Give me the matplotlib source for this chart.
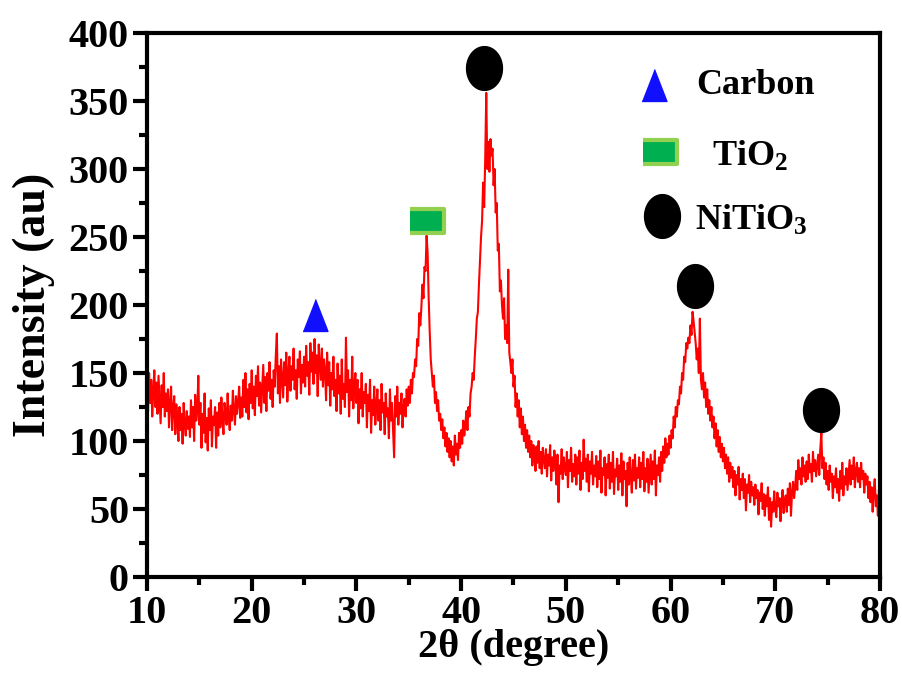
import numpy as np
import matplotlib
matplotlib.use("Agg")
from matplotlib import pyplot as plt

# XRD pattern, every 0.1 degree from 10.0 to 80.0
two_theta = np.round(np.arange(10.0, 80.05, 0.1), 1)
intensity = [
    140, 122, 150, 128, 145, 118, 138, 152, 125, 143,   # 10
    120, 148, 130, 113, 141, 125, 150, 118, 135, 122,   # 11
    138, 110, 128, 140, 108, 124, 133, 105, 127, 115,   # 12
    100, 125, 108, 120, 98, 128, 112, 104, 122, 109,    # 13
    118, 103, 130, 110, 125, 100, 134, 115, 122, 148,   # 14
    112, 128, 95, 120, 106, 135, 99, 117, 93, 124,      # 15
    108, 130, 96, 118, 112, 125, 95, 121, 104, 128,     # 16
    110, 132, 117, 105, 128, 121, 112, 135, 118, 108,   # 17
    126, 115, 137, 122, 112, 133, 120, 128, 140, 117,   # 18
    132, 118, 145, 125, 150, 121, 138, 116, 142, 128,   # 19
    152, 124, 140, 119, 148, 133, 155, 126, 143, 121,   # 20
    139, 156, 128, 147, 122, 150, 137, 158, 131, 145,   # 21
    125, 152, 140, 163, 179, 135, 155, 128, 160, 146,   # 22
    132, 158, 141, 165, 129, 150, 162, 137, 155, 145,   # 23
    168, 138, 152, 131, 160, 147, 166, 135, 156, 143,   # 24
    162, 140, 170, 148, 158, 134, 172, 151, 165, 142,   # 25
    175, 150, 163, 133, 171, 156, 145, 168, 140, 160,   # 26
    152, 130, 165, 141, 158, 126, 150, 138, 162, 133,   # 27
    145, 122, 157, 135, 148, 120, 160, 131, 142, 125,   # 28
    176, 136, 152, 118, 145, 130, 162, 124, 140, 150,   # 29
    128, 145, 113, 138, 124, 150, 118, 136, 128, 142,   # 30
    110, 134, 122, 145, 106, 130, 119, 140, 112, 126,   # 31
    138, 115, 130, 108, 142, 121, 128, 105, 135, 118,   # 32
    124, 102, 138, 115, 128, 108, 88, 133, 118, 140,    # 33
    112, 128, 120, 135, 110, 125, 131, 118, 138, 126,   # 34
    140, 128, 145, 135, 150, 147, 160, 155, 175, 170,   # 35
    194, 185, 198, 215, 205, 228, 225, 251, 238, 205,   # 36
    180, 160, 150, 140, 148, 128, 136, 122, 130, 115,   # 37
    120, 108, 116, 102, 110, 96, 106, 92, 102, 88,      # 38
    100, 85, 96, 82, 104, 90, 98, 86, 106, 95,          # 39
    108, 98, 115, 104, 112, 122, 108, 125, 118, 135,    # 40
    140, 150, 145, 162, 175, 190, 195, 215, 232, 250,   # 41
    262, 290, 272, 308, 356, 300, 320, 298, 322, 310,   # 42
    315, 288, 300, 268, 275, 240, 245, 210, 218, 200,   # 43
    190, 205, 175, 185, 172, 226, 165, 158, 150, 160,   # 44
    140, 148, 125, 135, 118, 130, 110, 124, 105, 118,   # 45
    100, 112, 95, 108, 92, 104, 88, 100, 82, 97,        # 46
    90, 78, 96, 84, 100, 80, 92, 76, 95, 86,            # 47
    80, 94, 74, 90, 82, 97, 71, 88, 78, 93,             # 48
    85, 68, 90, 55, 82, 76, 94, 72, 88, 80,             # 49
    75, 92, 66, 86, 78, 95, 70, 83, 74, 90,             # 50
    68, 88, 76, 93, 64, 84, 72, 101, 78, 87,            # 51
    70, 90, 63, 85, 76, 92, 68, 82, 74, 89,             # 52
    66, 85, 72, 93, 62, 80, 75, 88, 60, 83,             # 53
    73, 90, 65, 84, 70, 92, 61, 79, 74, 87,             # 54
    64, 82, 70, 91, 60, 85, 72, 78, 52, 84,             # 55
    68, 88, 74, 62, 86, 71, 90, 65, 80, 73,             # 56
    88, 66, 84, 72, 92, 63, 80, 70, 87, 62,             # 57
    76, 90, 68, 85, 72, 93, 60, 82, 75, 88,             # 58
    70, 92, 78, 96, 84, 102, 88, 98, 90, 104,           # 59
    95, 108, 102, 118, 110, 125, 118, 130, 127, 140,    # 60
    135, 150, 145, 162, 158, 172, 168, 176, 172, 185,   # 61
    178, 195, 188, 180, 172, 160, 168, 150, 190, 145,   # 62
    138, 150, 132, 143, 125, 138, 120, 130, 115, 125,   # 63
    110, 118, 102, 113, 96, 108, 92, 103, 88, 98,       # 64
    85, 95, 80, 90, 76, 88, 70, 84, 73, 81,             # 65
    66, 78, 60, 75, 68, 81, 57, 72, 64, 76,             # 66
    58, 72, 49, 68, 62, 75, 55, 70, 60, 66,             # 67
    53, 68, 58, 64, 46, 62, 56, 69, 50, 61,             # 68
    45, 60, 52, 66, 42, 58, 37, 55, 48, 63,             # 69
    50, 44, 62, 52, 58, 41, 55, 64, 47, 56,             # 70
    60, 48, 65, 53, 69, 45, 62, 70, 58, 66,             # 71
    78, 64, 86, 72, 80, 68, 88, 74, 82, 70,             # 72
    85, 72, 90, 77, 83, 70, 92, 78, 86, 74,             # 73
    82, 90, 75, 94, 106, 80, 88, 72, 84, 68,            # 74
    78, 64, 82, 70, 76, 58, 74, 66, 80, 62,             # 75
    72, 56, 78, 65, 84, 60, 74, 68, 80, 64,             # 76
    75, 86, 68, 82, 72, 88, 66, 78, 84, 70,             # 77
    80, 66, 84, 72, 78, 62, 76, 68, 74, 58,             # 78
    70, 55, 66, 48, 62, 72, 52, 60, 45, 64,             # 79
    55,                                                 # 80
]

# phase markers above the peaks
carbon_x, carbon_y = [26.0], [193]
tio2_x, tio2_y = [36.75], [262]
nitio3_x = [42.2, 62.3, 74.4]
nitio3_y = [374, 214, 123]

plt.rcParams['font.family'] = 'Liberation Serif'
plt.rcParams['font.weight'] = 'bold'
plt.rcParams['axes.labelweight'] = 'bold'
plt.rcParams['mathtext.fontset'] = 'custom'
plt.rcParams['mathtext.rm'] = 'Liberation Serif:bold'
plt.rcParams['mathtext.it'] = 'Liberation Serif:bold'

# marker shapes
tri = [(-0.78, -1), (0.78, -1), (0, 1)]
rect = [(-1, -0.68), (1, -0.68), (1, 0.68), (-1, 0.68)]
t = np.linspace(0, 2 * np.pi, 60)
ell = list(zip(0.82 * np.cos(t), np.sin(t)))

fig = plt.figure(figsize=(9.03, 6.77), dpi=100)
ax = fig.add_axes([0.1628, 0.1477, 0.8117, 0.8035])

ax.plot(two_theta, intensity, color='#ff0000', lw=1.5)

ax.plot(carbon_x, carbon_y, ls='none', marker=tri, ms=23, color='#1010ff', mec='#1010ff')
ax.plot(tio2_x, tio2_y, ls='none', marker=rect, ms=24.5, mfc='#00b050', mec='#92d050', mew=3)
ax.plot(nitio3_x, nitio3_y, ls='none', marker=ell, ms=31.5, color='black')

# legend-like key drawn by hand
ax.plot([0.692], [0.904], transform=ax.transAxes, marker=tri, ms=23, color='#1010ff')
ax.plot([0.700], [0.781], transform=ax.transAxes, marker=rect, ms=24.5, mfc='#00b050', mec='#92d050', mew=3)
ax.plot([0.703], [0.663], transform=ax.transAxes, marker=ell, ms=31.5, color='black')
ax.text(0.750, 0.903, 'Carbon', transform=ax.transAxes, fontsize=26, va='center')
ax.text(0.771, 0.772, r'TiO$_2$', transform=ax.transAxes, fontsize=26, va='center')
ax.text(0.748, 0.655, r'NiTiO$_3$', transform=ax.transAxes, fontsize=26, va='center')

ax.set_xlim(10, 80)
ax.set_ylim(0, 400)
ax.set_xticks(np.arange(10, 81, 10))
ax.set_xticks(np.arange(15, 80, 10), minor=True)
ax.set_yticks(np.arange(0, 401, 50))
ax.set_yticks(np.arange(25, 400, 50), minor=True)

for s in ax.spines.values():
    s.set_linewidth(3)
ax.tick_params(which='major', direction='out', length=10, width=3, labelsize=29, pad=3)
ax.tick_params(which='minor', direction='out', length=6, width=3)
ax.tick_params(top=False, right=False)

ax.set_xlabel('2θ (degree)', fontsize=29, labelpad=-2)
ax.set_ylabel('Intensity (au)', fontsize=33, labelpad=10)

fig.savefig('out.png', dpi=100)
